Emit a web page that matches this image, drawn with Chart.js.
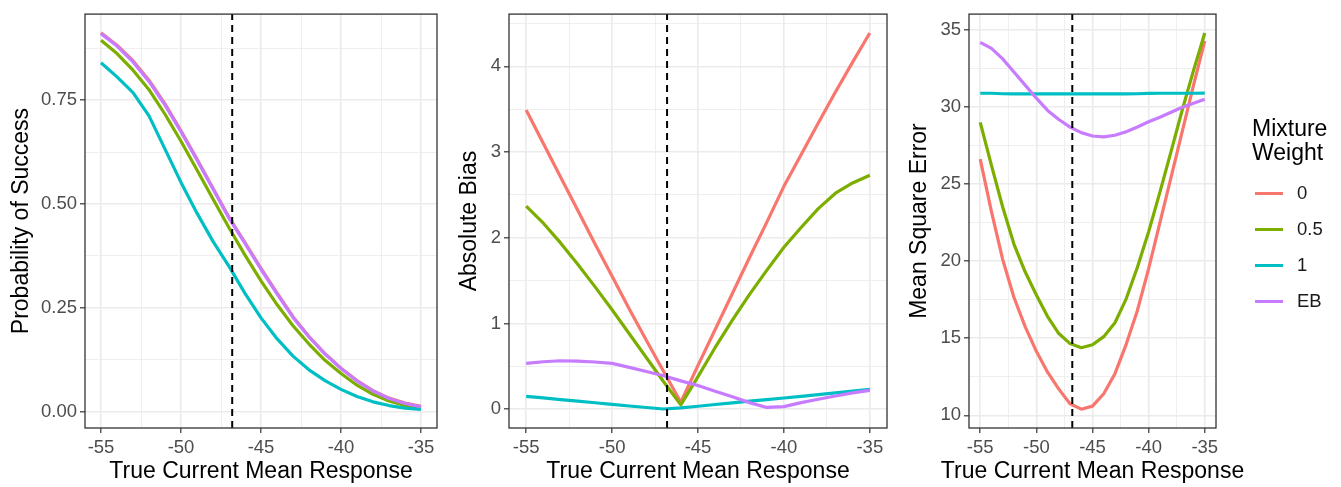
<!DOCTYPE html>
<html>
<head>
<meta charset="utf-8">
<script src="https://cdn.jsdelivr.net/npm/chart.js@4.4.1/dist/chart.umd.min.js"></script>
<style>
  body { margin: 0; background: #fff; width: 1341px; height: 487px; position: relative; overflow: hidden; font-family: "Liberation Sans", Arial, sans-serif; }
  canvas { position: absolute; top: 0; }
  .lg-title { position: absolute; left: 1252px; top: 116px; font-size: 23px; line-height: 24px; color: #000; }
  .lg-key { position: absolute; left: 1255px; width: 28px; height: 3.6px; }
  .lg-label { position: absolute; left: 1297px; font-size: 18.5px; line-height: 18px; color: #1a1a1a; }
</style>
</head>
<body>
<canvas id="p1" width="440" height="487" style="left:0px"></canvas>
<canvas id="p2" width="450" height="487" style="left:440px"></canvas>
<canvas id="p3" width="451" height="487" style="left:890px"></canvas>
<div id="legend"></div>
<script>
// x values (true current mean response)
const xVals = [-55, -54, -53, -52, -51, -50, -49, -48, -47, -46, -45, -44, -43, -42, -41, -40, -39, -38, -37, -36, -35];
const refLine = -46.8; // dashed vertical line

const seriesNames = ['0', '0.5', '1', 'EB'];
const seriesColors = ['#F8766D', '#7CAE00', '#00BFC4', '#C77CFF'];

// Probability of Success
const prob0  = [0.912, 0.882, 0.845, 0.798, 0.741, 0.676, 0.608, 0.538, 0.468, 0.407, 0.345, 0.286, 0.229, 0.181, 0.140, 0.105, 0.075, 0.051, 0.033, 0.021, 0.013];
const prob05 = [0.894, 0.862, 0.822, 0.775, 0.716, 0.651, 0.582, 0.512, 0.443, 0.377, 0.315, 0.258, 0.207, 0.163, 0.124, 0.092, 0.064, 0.042, 0.026, 0.015, 0.009];
const prob1  = [0.840, 0.806, 0.768, 0.712, 0.632, 0.552, 0.478, 0.410, 0.350, 0.285, 0.226, 0.176, 0.134, 0.101, 0.075, 0.054, 0.037, 0.024, 0.015, 0.009, 0.006];
const probEB = [0.910, 0.880, 0.842, 0.795, 0.738, 0.674, 0.606, 0.536, 0.466, 0.405, 0.343, 0.284, 0.227, 0.180, 0.139, 0.104, 0.074, 0.050, 0.032, 0.020, 0.012];

// Absolute Bias
const bias0  = [3.49, 3.10, 2.71, 2.32, 1.93, 1.55, 1.17, 0.80, 0.44, 0.08, 0.51, 0.93, 1.35, 1.77, 2.18, 2.60, 2.97, 3.34, 3.70, 4.05, 4.39];
const bias05 = [2.37, 2.17, 1.94, 1.69, 1.43, 1.16, 0.88, 0.60, 0.32, 0.05, 0.38, 0.72, 1.04, 1.34, 1.62, 1.89, 2.12, 2.34, 2.52, 2.64, 2.73];
const bias1  = [0.149, 0.131, 0.112, 0.093, 0.075, 0.056, 0.037, 0.019, 0.002, 0.015, 0.034, 0.054, 0.073, 0.093, 0.112, 0.130, 0.150, 0.170, 0.190, 0.210, 0.230];
const biasEB = [0.534, 0.553, 0.565, 0.561, 0.550, 0.534, 0.487, 0.440, 0.390, 0.330, 0.275, 0.210, 0.145, 0.076, 0.020, 0.030, 0.076, 0.115, 0.153, 0.190, 0.220];

// Mean Square Error
const mse0  = [26.6, 23.2, 20.1, 17.65, 15.75, 14.15, 12.8, 11.7, 10.75, 10.4, 10.6, 11.4, 12.7, 14.6, 16.8, 19.5, 22.47, 25.44, 28.42, 31.4, 34.27];
const mse05 = [28.98, 26.2, 23.5, 21.1, 19.3, 17.8, 16.4, 15.3, 14.65, 14.38, 14.57, 15.1, 16.0, 17.55, 19.6, 21.9, 24.45, 27.1, 29.8, 32.35, 34.77];
const mse1  = [30.87, 30.87, 30.84, 30.83, 30.83, 30.83, 30.83, 30.83, 30.83, 30.83, 30.83, 30.83, 30.83, 30.83, 30.84, 30.86, 30.87, 30.87, 30.87, 30.87, 30.88];
const mseEB = [34.17, 33.78, 33.1, 32.25, 31.4, 30.55, 29.76, 29.17, 28.68, 28.32, 28.1, 28.04, 28.15, 28.38, 28.68, 29.02, 29.32, 29.64, 29.96, 30.23, 30.49];

// axis ticks (major get labels, minor only gridlines)
const xMajor = [-55, -50, -45, -40, -35];
const xMinor = [-52.5, -47.5, -42.5, -37.5];
const xLabels = ['-55', '-50', '-45', '-40', '-35'];

const probMajor = [0, 0.25, 0.5, 0.75];
const probMinor = [0.125, 0.375, 0.625, 0.875];
const probLabels = ['0.00', '0.25', '0.50', '0.75'];

const biasMajor = [0, 1, 2, 3, 4];
const biasMinor = [0.5, 1.5, 2.5, 3.5, 4.5];
const biasLabels = ['0', '1', '2', '3', '4'];

const mseMajor = [10, 15, 20, 25, 30, 35];
const mseMinor = [12.5, 17.5, 22.5, 27.5, 32.5];
const mseLabels = ['10', '15', '20', '25', '30', '35'];

const xTitle = 'True Current Mean Response';
const FONT = '"Liberation Sans", Arial, sans-serif';

// panel border like theme_bw, plus the x title (drawn here so it is not squeezed on the narrow panel)
const boxPlugin = {
    id: 'panelBox',
    afterDraw(chart) {
        const a = chart.chartArea, ctx = chart.ctx;
        ctx.save();
        ctx.strokeStyle = '#333333';
        ctx.lineWidth = 1.3;
        ctx.strokeRect(a.left, a.top, a.right - a.left, a.bottom - a.top);
        ctx.fillStyle = '#000';
        ctx.font = '23px ' + FONT;
        ctx.textAlign = 'center';
        ctx.textBaseline = 'middle';
        ctx.fillText(xTitle, (a.left + a.right) / 2, 472);
        ctx.restore();
    }
};

function axisCfg(major, minor, labels, min, max, size, title, titlePad, isX) {
    const all = major.concat(minor);
    return {
        type: 'linear',
        min: min, max: max,
        afterBuildTicks: s => { s.ticks = all.map(v => ({ value: v })); },
        afterFit: s => { if (isX) s.height = size; else s.width = size; },
        ticks: {
            autoSkip: false, maxRotation: 0, padding: isX ? 4 : 3,
            color: '#4D4D4D', font: { family: FONT, size: 18.5 },
            callback: v => { const i = major.indexOf(v); return i >= 0 ? labels[i] : ''; }
        },
        grid: {
            color: '#EBEBEB',
            lineWidth: c => major.includes(c.tick.value) ? 1.6 : 0.8,
            tickColor: c => major.includes(c.tick.value) ? '#333333' : 'rgba(0,0,0,0)',
            tickWidth: 1.2,
            tickLength: 5
        },
        border: { display: false },
        title: {
            display: !isX, text: title, color: '#000',
            font: { family: FONT, size: 23 },
            padding: titlePad
        }
    };
}

function makePanel(id, series, yMajor, yMinor, yLabels, yMin, yMax, yTitle, yWidth, yTitlePad, rightPad) {
    const datasets = [{
        data: [{ x: refLine, y: yMin }, { x: refLine, y: yMax }],
        borderColor: '#000', borderWidth: 2, borderDash: [7, 5],
        pointRadius: 0, order: 0
    }];
    series.forEach((vals, i) => {
        datasets.push({
            label: seriesNames[i],
            data: xVals.map((x, j) => ({ x: x, y: vals[j] })),
            borderColor: seriesColors[i], borderWidth: 3.2,
            pointRadius: 0, tension: 0, borderJoinStyle: 'round',
            order: 4 - i
        });
    });
    return new Chart(document.getElementById(id), {
        type: 'line',
        data: { datasets: datasets },
        options: {
            responsive: false, animation: false,
            layout: { padding: { top: 7, right: rightPad, left: 0, bottom: 0 } },
            plugins: { legend: { display: false }, tooltip: { enabled: false } },
            scales: {
                x: axisCfg(xMajor, xMinor, xLabels, -56, -34, 59, xTitle, 0, true),
                y: axisCfg(yMajor, yMinor, yLabels, yMin, yMax, yWidth, yTitle, { top: yTitlePad, bottom: 0 }, false)
            }
        },
        plugins: [boxPlugin]
    });
}

makePanel('p1', [prob0, prob05, prob1, probEB], probMajor, probMinor, probLabels, -0.039, 0.957, 'Probability of Success', 85, 7.7, 3);
makePanel('p2', [bias0, bias05, bias1, biasEB], biasMajor, biasMinor, biasLabels, -0.22, 4.61, 'Absolute Bias', 69, 16.2, 3);
makePanel('p3', [mse0, mse05, mse1, mseEB], mseMajor, mseMinor, mseLabels, 9.18, 36.0, 'Mean Square Error', 79, 16.2, 125);

// legend
const lg = document.getElementById('legend');
lg.innerHTML = '<div class="lg-title">Mixture<br>Weight</div>';
seriesNames.forEach((name, i) => {
    const cy = 193.3 + i * 36.1;
    lg.innerHTML += `<div class="lg-key" style="top:${cy - 1.8}px;background:${seriesColors[i]}"></div>` +
                    `<div class="lg-label" style="top:${cy - 9.8}px">${name}</div>`;
});
</script>
</body>
</html>
